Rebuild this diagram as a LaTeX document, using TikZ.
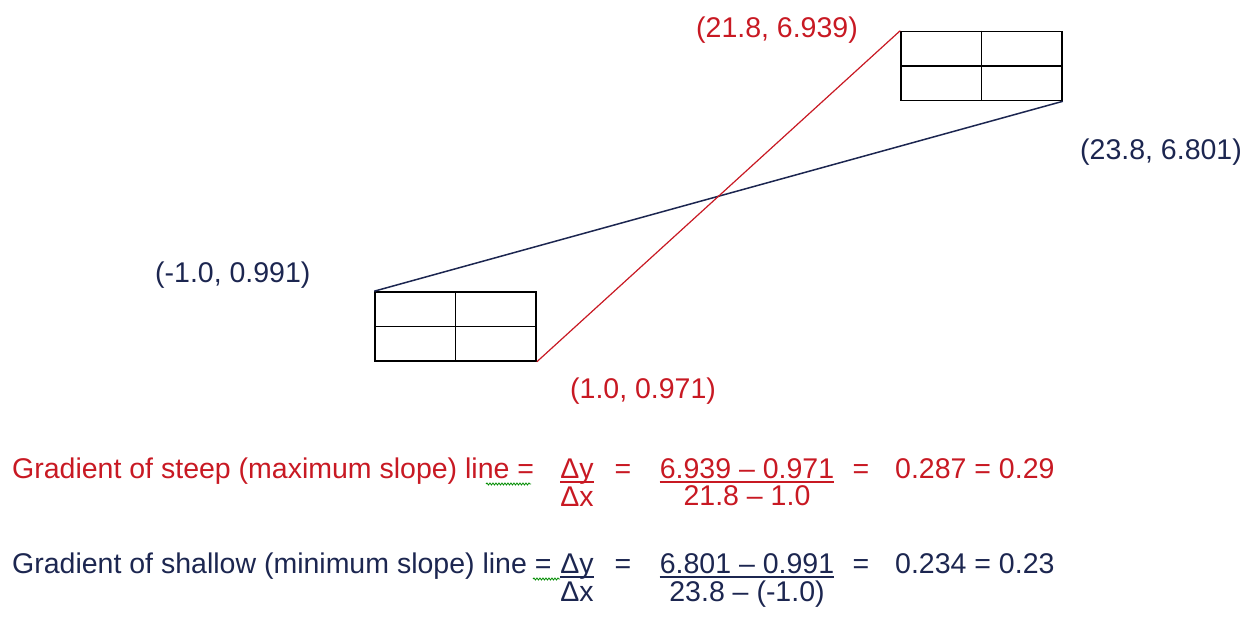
\documentclass[tikz,border=0pt]{standalone}
\usepackage{fontspec}
\setmainfont{Liberation Sans}
\usepackage{tikz}
\usetikzlibrary{decorations.pathmorphing}
\definecolor{steep}{RGB}{200,25,35}
\definecolor{shallow}{RGB}{28,38,80}
\tikzset{gridbox/.style = {shape = rectangle, draw, line width = 1.6pt, minimum width = 161pt, minimum height = 69pt, inner sep = 0pt}}
\tikzset{txt/.style = {inner sep = 0pt, font = \fontsize{28.5}{34}\selectfont}}
\tikzset{bar/.style = {line width = 1.3pt}}
\tikzset{squiggle/.style = {green!55!black, line width = 0.8pt, decorate, decoration = {snake, amplitude = 1pt, segment length = 3pt}}}

\begin{document}
\begin{tikzpicture}[x = 1pt, y = -1pt]
			\useasboundingbox (0, 0) rectangle (1244, 617);

			% the two error boxes
			\node[gridbox] (p) at (455.5, 326.5) {};
			\node[gridbox] (q) at (981.5, 66) {};
			\draw[line width = 1.6pt] (p.north) -- (p.south);
			\draw[line width = 1.6pt] (p.west) -- (p.east);
			\draw[line width = 1.6pt] (q.north) -- (q.south);
			\draw[line width = 1.6pt] (q.west) -- (q.east);

			% maximum and minimum slope lines
			\draw[shallow, line width = 1.5pt] (p.north west) -- (q.south east);
			\draw[steep, line width = 1.2pt] (p.south east) -- (q.north west);

			% corner points
			\node[txt, steep, anchor = base] (qa) at (777, 38) {(21.8, 6.939)};
			\node[txt, shallow, anchor = base west] (qb) at (1080, 160) {(23.8, 6.801)};
			\node[txt, shallow, anchor = base west] (pa) at (155, 283) {(-1.0, 0.991)};
			\node[txt, steep, anchor = base west] (pb) at (570, 398) {(1.0, 0.971)};

			% steep line
			\node[txt, steep, anchor = base west] (s) at (12, 478) {Gradient of steep (maximum slope) line =};
			\node[txt, steep, anchor = base] (sdy) at (577, 478) {Δy};
			\node[txt, steep, anchor = base] (sdx) at (577, 506) {Δx};
			\node[txt, steep, anchor = base] (se1) at (623, 478) {=};
			\node[txt, steep, anchor = base] (snum) at (747, 478) {6.939 -- 0.971};
			\node[txt, steep, anchor = base] (sden) at (747, 505) {21.8 -- 1.0};
			\node[txt, steep, anchor = base] (se2) at (861, 478) {=};
			\node[txt, steep, anchor = base west] (sres) at (895, 478) {0.287 = 0.29};
			\draw[steep, bar] ([yshift = -4pt]sdy.base west) -- ([yshift = -4pt]sdy.base east);
			\draw[steep, bar] ([yshift = -4pt]snum.base west) -- ([yshift = -4pt]snum.base east);
			\draw[squiggle] (486, 484) -- (531, 484);

			% shallow line
			\node[txt, shallow, anchor = base west] (m) at (12, 573) {Gradient of shallow (minimum slope) line =};
			\node[txt, shallow, anchor = base] (mdy) at (577, 573) {Δy};
			\node[txt, shallow, anchor = base] (mdx) at (577, 601) {Δx};
			\node[txt, shallow, anchor = base] (me1) at (623, 573) {=};
			\node[txt, shallow, anchor = base] (mnum) at (747, 573) {6.801 -- 0.991};
			\node[txt, shallow, anchor = base] (mden) at (747, 601) {23.8 -- (-1.0)};
			\node[txt, shallow, anchor = base] (me2) at (861, 573) {=};
			\node[txt, shallow, anchor = base west] (mres) at (895, 573) {0.234 = 0.23};
			\draw[shallow, bar] ([yshift = -4pt]mdy.base west) -- ([yshift = -4pt]mdy.base east);
			\draw[shallow, bar] ([yshift = -4pt]mnum.base west) -- ([yshift = -4pt]mnum.base east);
			\draw[squiggle] (533, 579) -- (560, 579);
		\end{tikzpicture}
\end{document}
